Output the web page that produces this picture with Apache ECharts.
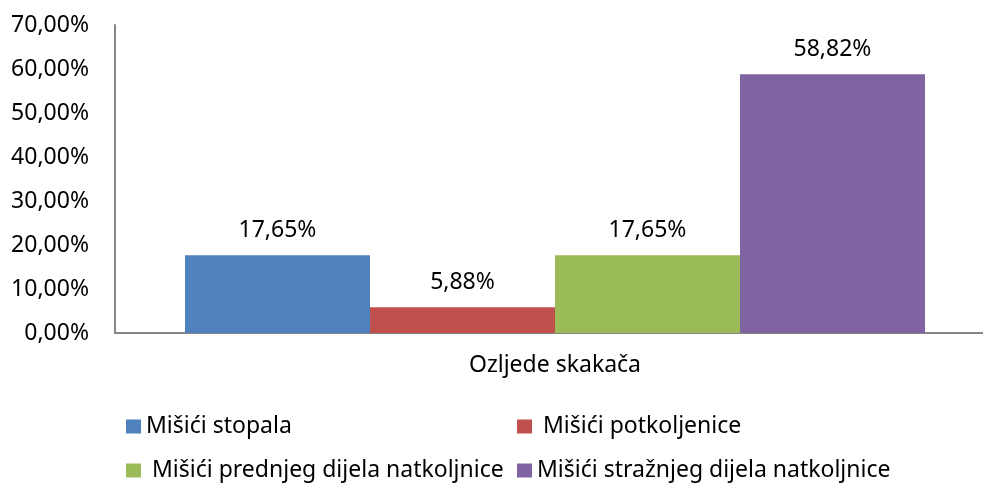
<!DOCTYPE html>
<html>
<head>
    <meta charset="utf-8">
    <title>Ozljede skakača</title>
    <style>
        body { margin: 0; }
        #chart { width: 983px; height: 484px; }
    </style>
</head>
<body>
    <div id="chart"></div>
    <script src="https://cdn.jsdelivr.net/npm/echarts@6/dist/echarts.min.js"></script>
    <script>
        // podaci
        var categories = ['Ozljede skakača'];
        var seriesNames = ['Mišići stopala', 'Mišići potkoljenice', 'Mišići prednjeg dijela natkoljnice', 'Mišići stražnjeg dijela natkoljnice'];
        var seriesValues = [17.65, 5.88, 17.65, 58.82];
        var colors = ['#4F81BD', '#C0504D', '#9BBB59', '#8064A2'];

        var font = 'Noto Sans';
        var fs = 23;
        var axisColor = '#868686';
        var pct = function (v) {
            return v.toFixed(2).replace('.', ',') + '%';
        };

        var chart = echarts.init(document.getElementById('chart'));

        // stupci idu u drugi grid (malo pomaknut udesno kao u Excelu)
        var series = seriesNames.map(function (name, i) {
            return {
                name: name,
                type: 'bar',
                xAxisIndex: 1,
                yAxisIndex: 1,
                barWidth: 185,
                barGap: 0,
                itemStyle: { color: colors[i] },
                label: {
                    show: true,
                    position: 'top',
                    distance: 13,
                    color: '#000',
                    fontFamily: font,
                    fontSize: fs,
                    formatter: function (p) { return pct(p.value); }
                },
                data: [seriesValues[i]]
            };
        });

        // legenda u dva reda, ručno poravnata
        var legendPos = [[121, 410], [512, 410], [121, 454], [512, 454]];
        var legendPad = ['', ' ', ' ', ''];
        var legends = seriesNames.map(function (name, i) {
            return {
                data: [name],
                left: legendPos[i][0],
                top: legendPos[i][1],
                itemWidth: 15,
                itemHeight: 14,
                icon: 'rect',
                textStyle: { fontFamily: font, fontSize: fs, color: '#000' },
                formatter: function (n) { return legendPad[i] + n; }
            };
        });

        var option = {
            animation: false,
            backgroundColor: '#fff',
            grid: [
                { left: 115, right: 0, top: 25, bottom: 151 },
                { left: 127, right: 0, top: 25, bottom: 151 }
            ],
            legend: legends,
            xAxis: [
                {
                    type: 'category',
                    gridIndex: 0,
                    data: categories,
                    axisTick: { show: false },
                    axisLine: { show: true, lineStyle: { color: axisColor, width: 2 } },
                    axisLabel: { show: false }
                },
                {
                    type: 'category',
                    gridIndex: 1,
                    data: categories,
                    axisTick: { show: false },
                    axisLine: { show: false },
                    axisLabel: { color: '#000', fontFamily: font, fontSize: fs, margin: 21 }
                }
            ],
            yAxis: [
                {
                    type: 'value',
                    gridIndex: 0,
                    min: 0,
                    max: 70,
                    interval: 10,
                    splitLine: { show: false },
                    axisTick: { show: false },
                    axisLine: { show: true, lineStyle: { color: axisColor, width: 2 } },
                    axisLabel: {
                        color: '#000',
                        fontFamily: font,
                        fontSize: fs,
                        margin: 26,
                        formatter: pct
                    }
                },
                {
                    type: 'value',
                    gridIndex: 1,
                    min: 0,
                    max: 70,
                    interval: 10,
                    show: false
                }
            ],
            series: series
        };

        chart.setOption(option);
    </script>
</body>
</html>
